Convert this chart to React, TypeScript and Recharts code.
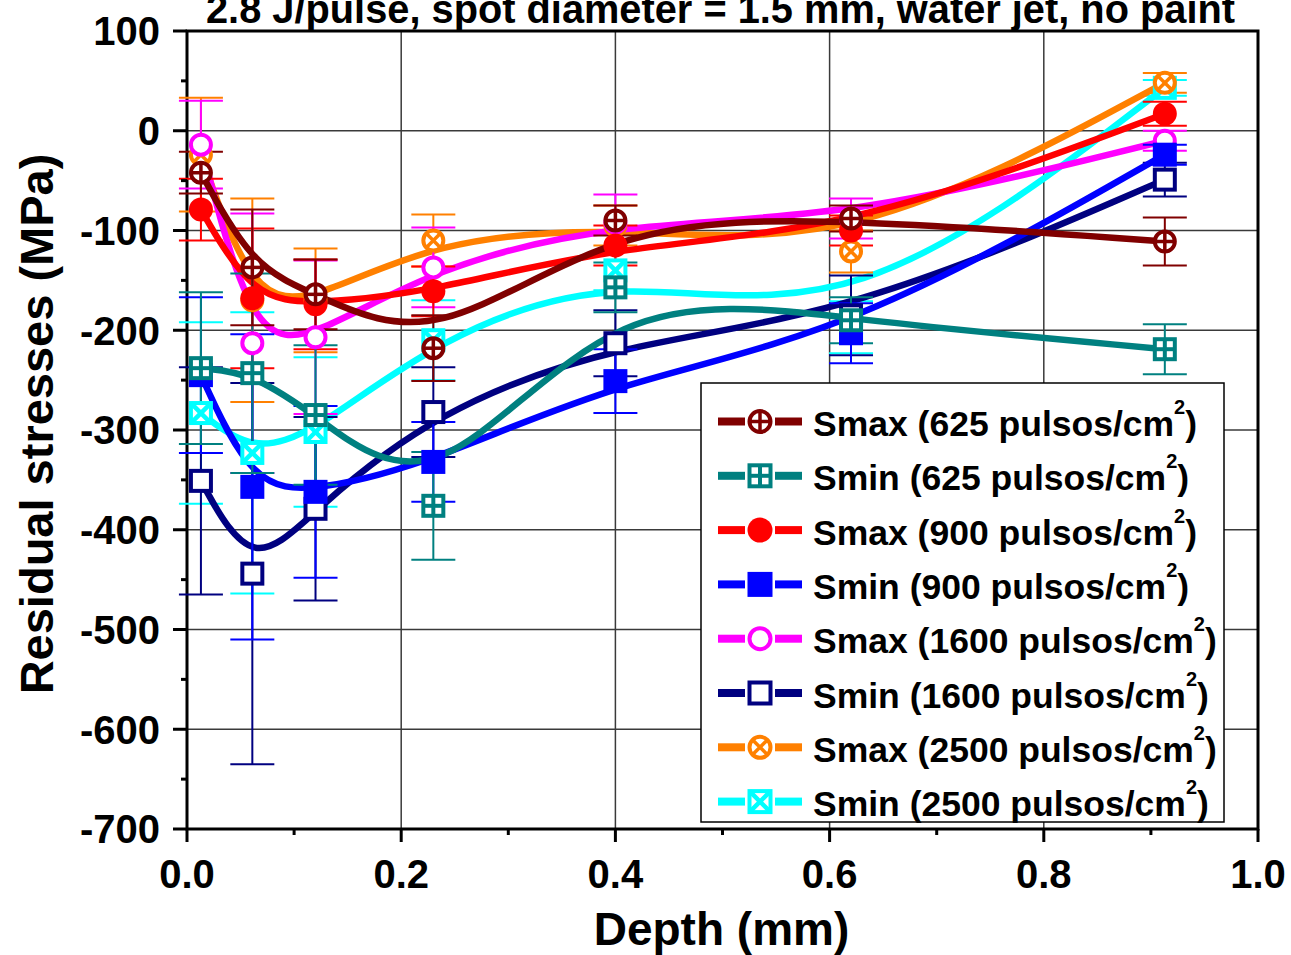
import React from 'react';
import { LineChart, Line, XAxis, YAxis, CartesianGrid, ErrorBar, ReferenceArea } from 'recharts';

// depth of each measurement (mm)
const depth = [0.013, 0.061, 0.12, 0.23, 0.4, 0.62, 0.913];

// residual stresses (MPa) and their error bars
const smax625 = [-42, -137, -164, -218, -90, -88, -111];
const smax625Err = [21, 58, 35, 33, 15, 13, 24];
const smin625 = [-238, -243, -285, -376, -157, -190, -219];
const smin625Err = [76, 100, 70, 54, 25, 23, 25];
const smax900 = [-79, -168, -174, -161, -115, -100, 17];
const smax900Err = [31, 70, 45, 25, 20, 15, 12];
const smin900 = [-245, -357, -362, -332, -251, -203, -24];
const smin900Err = [78, 153, 86, 40, 32, 30, 10];
const smax1600 = [-14, -213, -207, -137, -92, -88, -10];
const smax1600Err = [44, 130, 77, 40, 28, 20, 10];
const smin1600 = [-351, -444, -379, -282, -213, -185, -49];
const smin1600Err = [114, 191, 92, 45, 33, 40, 17];
const smax2500 = [-24, -170, -170, -110, -95, -121, 48];
const smax2500Err = [57, 102, 52, 26, 20, 21, 10];
const smin2500 = [-283, -323, -302, -210, -140, -197, 43];
const smin2500Err = [91, 141, 75, 40, 20, 26, 8];

const yTicks = [100, 50, 0, -50, -100, -150, -200, -250, -300, -350, -400, -450, -500, -550, -600, -650, -700];
const xTicks = [0, 0.1, 0.2, 0.3, 0.4, 0.5, 0.6, 0.7, 0.8, 0.9, 1.0];

const FONT = '"Liberation Sans", Arial, sans-serif';

type Kind = 'circlePlus' | 'squarePlus' | 'circleFill' | 'squareFill' | 'circleOpen' | 'squareOpen' | 'circleX' | 'squareX';

const series: { key: string; name: string; color: string; kind: Kind; values: number[]; errors: number[] }[] = [
  { key: 'smax625', name: 'Smax (625 pulsos/cm', color: '#800000', kind: 'circlePlus', values: smax625, errors: smax625Err },
  { key: 'smin625', name: 'Smin (625 pulsos/cm', color: '#008080', kind: 'squarePlus', values: smin625, errors: smin625Err },
  { key: 'smax900', name: 'Smax (900 pulsos/cm', color: '#ff0000', kind: 'circleFill', values: smax900, errors: smax900Err },
  { key: 'smin900', name: 'Smin (900 pulsos/cm', color: '#0000ff', kind: 'squareFill', values: smin900, errors: smin900Err },
  { key: 'smax1600', name: 'Smax (1600 pulsos/cm', color: '#ff00ff', kind: 'circleOpen', values: smax1600, errors: smax1600Err },
  { key: 'smin1600', name: 'Smin (1600 pulsos/cm', color: '#000080', kind: 'squareOpen', values: smin1600, errors: smin1600Err },
  { key: 'smax2500', name: 'Smax (2500 pulsos/cm', color: '#ff8000', kind: 'circleX', values: smax2500, errors: smax2500Err },
  { key: 'smin2500', name: 'Smin (2500 pulsos/cm', color: '#00ffff', kind: 'squareX', values: smin2500, errors: smin2500Err },
];

const data = depth.map((x, i) => {
  const row: Record<string, number> = { x };
  series.forEach((s) => {
    row[s.key] = s.values[i];
    row[s.key + 'Err'] = s.errors[i];
  });
  return row;
});

function marker(kind: Kind, cx: number, cy: number, size: number, color: string, key?: string) {
  const sw = 4;
  const r = size / 2 - sw / 2;
  const h = r;
  const d = r * 0.72;
  let body: React.ReactNode = null;
  switch (kind) {
    case 'circlePlus':
      body = (
        <>
          <circle cx={cx} cy={cy} r={r} fill="#fff" stroke={color} strokeWidth={sw} />
          <line x1={cx - r} y1={cy} x2={cx + r} y2={cy} stroke={color} strokeWidth={3.5} />
          <line x1={cx} y1={cy - r} x2={cx} y2={cy + r} stroke={color} strokeWidth={3.5} />
        </>
      );
      break;
    case 'squarePlus':
      body = (
        <>
          <rect x={cx - h} y={cy - h} width={2 * h} height={2 * h} fill="#fff" stroke={color} strokeWidth={sw} />
          <line x1={cx - h} y1={cy} x2={cx + h} y2={cy} stroke={color} strokeWidth={4} />
          <line x1={cx} y1={cy - h} x2={cx} y2={cy + h} stroke={color} strokeWidth={4} />
        </>
      );
      break;
    case 'circleFill':
      body = <circle cx={cx} cy={cy} r={size / 2} fill={color} />;
      break;
    case 'squareFill':
      body = <rect x={cx - size / 2} y={cy - size / 2} width={size} height={size} fill={color} />;
      break;
    case 'circleOpen':
      body = <circle cx={cx} cy={cy} r={r} fill="#fff" stroke={color} strokeWidth={sw} />;
      break;
    case 'squareOpen':
      body = <rect x={cx - h} y={cy - h} width={2 * h} height={2 * h} fill="#fff" stroke={color} strokeWidth={sw} />;
      break;
    case 'circleX':
      body = (
        <>
          <circle cx={cx} cy={cy} r={r} fill="#fff" stroke={color} strokeWidth={sw} />
          <line x1={cx - d} y1={cy - d} x2={cx + d} y2={cy + d} stroke={color} strokeWidth={3.5} />
          <line x1={cx - d} y1={cy + d} x2={cx + d} y2={cy - d} stroke={color} strokeWidth={3.5} />
        </>
      );
      break;
    case 'squareX':
      body = (
        <>
          <rect x={cx - h} y={cy - h} width={2 * h} height={2 * h} fill="#fff" stroke={color} strokeWidth={sw} />
          <line x1={cx - h} y1={cy - h} x2={cx + h} y2={cy + h} stroke={color} strokeWidth={4.5} />
          <line x1={cx - h} y1={cy + h} x2={cx + h} y2={cy - h} stroke={color} strokeWidth={4.5} />
        </>
      );
      break;
  }
  return <g key={key}>{body}</g>;
}

const YTick = (props: any) => {
  const { x, y, payload } = props;
  const v = payload.value as number;
  const major = Math.round(v) % 100 === 0;
  return (
    <g>
      <line x1={x - (major ? 14 : 6)} y1={y} x2={x} y2={y} stroke="#000" strokeWidth={3} />
      {major && (
        <text x={x - 27} y={y} dy="0.36em" textAnchor="end" fontSize={40} fontWeight="bold" fontFamily={FONT} fill="#000">
          {v}
        </text>
      )}
    </g>
  );
};

const XTick = (props: any) => {
  const { x, y, payload } = props;
  const v = payload.value as number;
  const major = Math.round(v * 10) % 2 === 0;
  return (
    <g>
      <line x1={x} y1={y} x2={x} y2={y + (major ? 13 : 6)} stroke="#000" strokeWidth={3} />
      {major && (
        <text x={x} y={y + 59} textAnchor="middle" fontSize={40} fontWeight="bold" fontFamily={FONT} fill="#000">
          {v.toFixed(1)}
        </text>
      )}
    </g>
  );
};

export default function App() {
  const legendTop = 383;
  const rowGap = 54.3;
  return (
    <div style={{ position: 'absolute', left: 0, top: 0, width: 1291, height: 955, background: '#fff' }}>
      <LineChart width={1291} height={955} data={data} margin={{ top: 31, right: 33, left: 0, bottom: 0 }}>
        <CartesianGrid
          stroke="#3a3a3a"
          strokeWidth={1.5}
          horizontalValues={[0, -100, -200, -300, -400, -500, -600]}
          verticalValues={[0.2, 0.4, 0.6, 0.8]}
        />
        <XAxis
          type="number"
          dataKey="x"
          domain={[0, 1]}
          ticks={xTicks}
          interval={0}
          height={126}
          axisLine={false}
          tickLine={false}
          tickSize={0}
          tickMargin={0}
          tick={<XTick />}
        />
        <YAxis
          type="number"
          domain={[-700, 100]}
          ticks={yTicks}
          interval={0}
          width={187}
          axisLine={false}
          tickLine={false}
          tickSize={0}
          tickMargin={0}
          allowDataOverflow
          tick={<YTick />}
        />
        <ReferenceArea x1={0} x2={1} y1={-700} y2={100} fill="none" stroke="#000" strokeWidth={3} />
        {[...series].reverse().map((s) => (
          <Line
            key={s.key}
            dataKey={s.key}
            type="basis"
            stroke={s.color}
            strokeWidth={6.5}
            isAnimationActive={false}
            activeDot={false}
            legendType="none"
            dot={(p: any) => marker(s.kind, p.cx, p.cy, 24, s.color, `${s.key}-${p.index}`)}
          >
            <ErrorBar dataKey={s.key + 'Err'} width={22} strokeWidth={2} stroke={s.color} direction="y" />
          </Line>
        ))}
      </LineChart>
      <svg
        width={1291}
        height={955}
        style={{ position: 'absolute', left: 0, top: 0, pointerEvents: 'none' }}
        fontFamily={FONT}
      >
        <text x={720.5} y={22.6} textAnchor="middle" fontSize={40} fontWeight="bold" textLength={1029} lengthAdjust="spacingAndGlyphs">
          2.8 J/pulse, spot diameter = 1.5 mm, water jet, no paint
        </text>
        <text x={721.5} y={945} textAnchor="middle" fontSize={46} fontWeight="bold">
          Depth (mm)
        </text>
        <text transform="translate(53,424) rotate(-90)" textAnchor="middle" fontSize={47} fontWeight="bold">
          Residual stresses (MPa)
        </text>
        <rect x={701} y={legendTop} width={523} height={439} fill="#fff" stroke="#000" strokeWidth={1.5} />
        {series.map((s, i) => {
          const cy = 421.5 + i * rowGap;
          return (
            <g key={s.key}>
              <line x1={718} y1={cy} x2={745} y2={cy} stroke={s.color} strokeWidth={8} />
              <line x1={775} y1={cy} x2={802} y2={cy} stroke={s.color} strokeWidth={8} />
              {marker(s.kind, 760, cy, 25, s.color)}
              <text x={813} y={cy + 14.5} fontSize={35.5} fontWeight="bold" fill="#000">
                {s.name}
                <tspan fontSize={20} dy={-22}>2</tspan>
                <tspan dy={22}>)</tspan>
              </text>
            </g>
          );
        })}
      </svg>
    </div>
  );
}
